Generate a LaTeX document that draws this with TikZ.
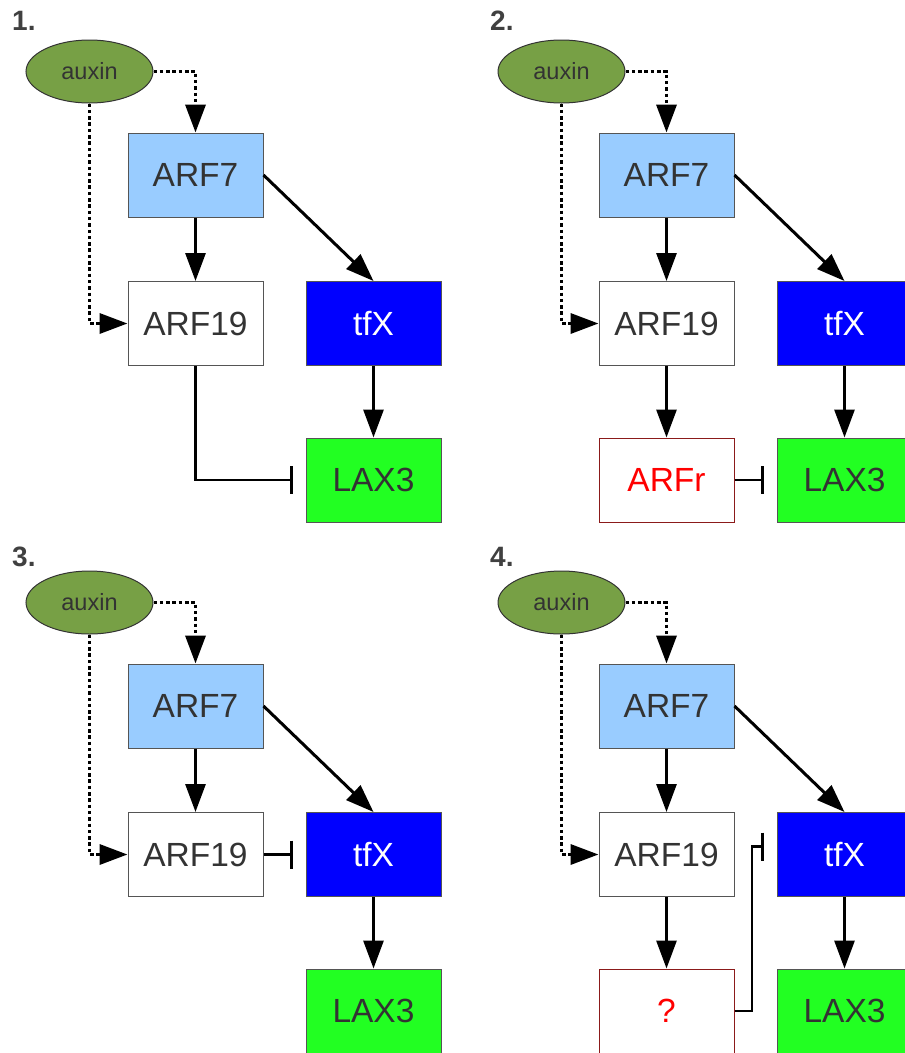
\documentclass[tikz,border=0pt]{standalone}
\usepackage{fontspec}
\setmainfont{Liberation Sans}
\usetikzlibrary{arrows.meta,shapes.geometric}
\definecolor{txt}{HTML}{333333}
\definecolor{boxgray}{HTML}{555555}
\definecolor{auxgreen}{HTML}{77A045}
\definecolor{arflblue}{HTML}{99CCFF}
\definecolor{tfblue}{HTML}{0000FF}
\definecolor{laxgreen}{HTML}{22FF22}
\definecolor{darkred}{HTML}{8B1A1A}
\tikzset{
  box/.style={draw=boxgray, line width=1pt, minimum width=135pt, minimum height=84pt, inner sep=0pt, font=\fontsize{33.5}{33.5}\selectfont, text=txt},
  arf7box/.style={box, fill=arflblue},
  arf19box/.style={box, fill=white},
  tfxbox/.style={box, fill=tfblue, text=white},
  laxbox/.style={box, fill=laxgreen},
  redbox/.style={box, fill=white, draw=darkred, text=red},
  auxinnode/.style={ellipse, draw=black!80, line width=1pt, fill=auxgreen, minimum width=127pt, minimum height=63pt, inner sep=0pt, font=\fontsize{23.5}{23.5}\selectfont, text=txt},
  panellabel/.style={anchor=north west, inner sep=0pt, font=\fontsize{28}{28}\selectfont\bfseries, text=black!75},
  act/.style={line width=3pt, -{Triangle[length=28pt,width=20pt]}},
  dotact/.style={line width=3.5pt, dash pattern=on 3.5pt off 2.8pt, -{Triangle[length=28pt,width=20pt]}},
  inh/.style={line width=2.5pt, -{Bar[width=28pt,line width=3pt]}, shorten >=13pt},
}
\begin{document}
\begin{tikzpicture}[x=1pt,y=-1pt]
\useasboundingbox (0,0) rectangle (905,1053);
% ---------- Panel 1 ----------
\begin{scope}
\node[panellabel] (lab1) at (12,11) {1.};
\node[auxinnode] (aux1) at (89.5,71.5) {auxin};
\node[arf7box] (arf7a) at (195.5,175) {ARF7};
\node[arf19box] (arf19a) at (195.5,323.5) {ARF19};
\node[tfxbox] (tfxa) at (373.5,323.5) {tfX};
\node[laxbox] (laxa) at (373.5,480) {LAX3};
\draw[dotact] (aux1.east) -| (arf7a.north);
\draw[dotact] (aux1.south) |- (arf19a.west);
\draw[act] (arf7a.south) -- (arf19a.north);
\draw[act] (arf7a.east) -- (tfxa.north);
\draw[act] (tfxa.south) -- (laxa.north);
\draw[inh] (arf19a.south) |- (laxa.west);
\end{scope}
% ---------- Panel 2 ----------
\begin{scope}[shift={(471,0)}]
\node[panellabel] (lab2) at (19,11) {2.};
\node[auxinnode] (aux2) at (90.5,71.5) {auxin};
\node[arf7box] (arf7b) at (195.5,175) {ARF7};
\node[arf19box] (arf19b) at (195.5,323.5) {ARF19};
\node[tfxbox] (tfxb) at (373.5,323.5) {tfX};
\node[laxbox] (laxb) at (373.5,480) {LAX3};
\node[redbox] (arfr) at (195.5,480) {ARFr};
\draw[dotact] (aux2.east) -| (arf7b.north);
\draw[dotact] (aux2.south) |- (arf19b.west);
\draw[act] (arf7b.south) -- (arf19b.north);
\draw[act] (arf7b.east) -- (tfxb.north);
\draw[act] (tfxb.south) -- (laxb.north);
\draw[act] (arf19b.south) -- (arfr.north);
\draw[inh] (arfr.east) -- (laxb.west);
\end{scope}
% ---------- Panel 3 ----------
\begin{scope}[shift={(0,531)}]
\node[panellabel] (lab3) at (12,16) {3.};
\node[auxinnode] (aux3) at (89.5,71.5) {auxin};
\node[arf7box] (arf7c) at (195.5,175) {ARF7};
\node[arf19box] (arf19c) at (195.5,323.5) {ARF19};
\node[tfxbox] (tfxc) at (373.5,323.5) {tfX};
\node[laxbox] (laxc) at (373.5,480) {LAX3};
\draw[dotact] (aux3.east) -| (arf7c.north);
\draw[dotact] (aux3.south) |- (arf19c.west);
\draw[act] (arf7c.south) -- (arf19c.north);
\draw[act] (arf7c.east) -- (tfxc.north);
\draw[act] (tfxc.south) -- (laxc.north);
\draw[inh] (arf19c.east) -- (tfxc.west);
\end{scope}
% ---------- Panel 4 ----------
\begin{scope}[shift={(471,531)}]
\node[panellabel] (lab4) at (19,16) {4.};
\node[auxinnode] (aux4) at (90.5,71.5) {auxin};
\node[arf7box] (arf7d) at (195.5,175) {ARF7};
\node[arf19box] (arf19d) at (195.5,323.5) {ARF19};
\node[tfxbox] (tfxd) at (373.5,323.5) {tfX};
\node[laxbox] (laxd) at (373.5,480) {LAX3};
\node[redbox] (qbox) at (195.5,480) {?};
\coordinate (qturn) at (281,480);
\draw[dotact] (aux4.east) -| (arf7d.north);
\draw[dotact] (aux4.south) |- (arf19d.west);
\draw[act] (arf7d.south) -- (arf19d.north);
\draw[act] (arf7d.east) -- (tfxd.north);
\draw[act] (tfxd.south) -- (laxd.north);
\draw[act] (arf19d.south) -- (qbox.north);
\draw[inh] (qbox.east) -- (qturn) |- ([yshift=8pt]tfxd.west);
\end{scope}
\end{tikzpicture}
\end{document}
